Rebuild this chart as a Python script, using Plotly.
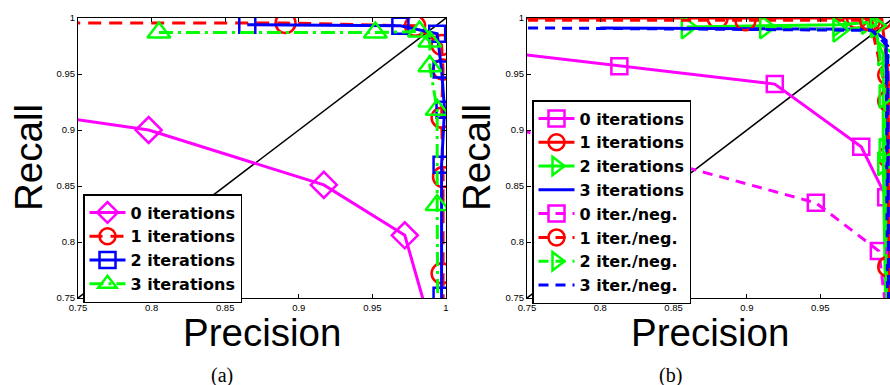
import plotly.graph_objects as go

# ---------------- data: panel (a) ----------------
a_labels = ["0 iterations", "1 iterations", "2 iterations", "3 iterations"]
a0_x = [0.65, 0.798, 0.917, 0.972, 0.995]
a0_y = [0.928, 0.900, 0.851, 0.806, 0.70]
a1_x = [0.60, 0.891, 0.979, 0.997, 0.998, 0.997, 0.998, 0.997, 0.998]
a1_y = [0.9955, 0.9955, 0.993, 0.976, 0.954, 0.911, 0.858, 0.772, 0.60]
a2_x = [0.865, 0.969, 0.994, 0.997, 0.999, 0.997, 0.997, 0.998]
a2_y = [0.994, 0.993, 0.986, 0.954, 0.918, 0.869, 0.752, 0.60]
a3_x = [0.805, 0.952, 0.982, 0.989, 0.989, 0.994, 0.994, 0.995]
a3_y = [0.987, 0.987, 0.988, 0.979, 0.957, 0.918, 0.833, 0.60]

# ---------------- data: panel (b) ----------------
b_labels = ["0 iterations", "1 iterations", "2 iterations", "3 iterations",
            "0 iter./neg.", "1 iter./neg.", "2 iter./neg.", "3 iter./neg."]
b0_x = [0.60, 0.813, 0.919, 0.978, 0.995, 0.996]
b0_y = [0.990, 0.957, 0.941, 0.885, 0.840, 0.70]
b1_x = [0.60, 0.880, 0.975, 0.992, 0.9964, 0.9964, 0.997]
b1_y = [1.0, 1.0, 1.0, 0.999, 0.949, 0.876, 0.60]
b2_x = [0.859, 0.9625, 0.982, 0.993, 0.993, 0.9965]
b2_y = [0.992, 0.994, 0.996, 0.968, 0.870, 0.60]
b3_x = [0.80, 0.985, 0.995, 0.9965]
b3_y = [0.991, 0.990, 0.980, 0.60]
b0n_x = [0.70, 0.81, 0.947, 0.990, 0.9985]
b0n_y = [0.910, 0.884, 0.835, 0.792, 0.70]
b1n_x = [0.60, 0.899, 0.984, 0.9964, 0.9964, 0.997]
b1n_y = [0.998, 0.998, 0.998, 0.926, 0.778, 0.60]
b2n_x = [0.9125, 0.9625, 0.988, 0.994, 0.994, 0.997]
b2n_y = [0.992, 0.989, 0.993, 0.930, 0.882, 0.60]
b3n_x = [0.60, 0.985, 0.996, 0.997]
b3n_y = [0.9925, 0.989, 0.975, 0.60]

diag = [0.75, 1.0]

tick_vals = [0.75, 0.8, 0.85, 0.9, 0.95, 1.0]
tick_text = ["0.75", "0.8", "0.85", "0.9", "0.95", "1"]

MAG, RED, BLU, GRN = "#ff00ff", "#ff0000", "#0000ff", "#00ff00"
LW = 3

fig = go.Figure()

def add(x, y, name, color, dash, symbol, size, xa, ya, legend, show=True):
    mode = "lines+markers" if symbol else "lines"
    marker = dict(symbol=symbol, size=size, color=color,
                  line=dict(color=color, width=2.5)) if symbol else None
    fig.add_trace(go.Scatter(
        x=x, y=y, name=name, mode=mode, xaxis=xa, yaxis=ya,
        line=dict(color=color, width=LW, dash=dash),
        marker=marker, legend=legend, showlegend=show))

# diagonals
fig.add_trace(go.Scatter(x=diag, y=diag, mode="lines", xaxis="x", yaxis="y",
                         line=dict(color="black", width=1.5), showlegend=False))
fig.add_trace(go.Scatter(x=diag, y=diag, mode="lines", xaxis="x2", yaxis="y2",
                         line=dict(color="black", width=1.5), showlegend=False))

# panel a
add(a0_x, a0_y, a_labels[0], MAG, "solid", "diamond-open", 20, "x", "y", "legend")
add(a1_x, a1_y, a_labels[1], RED, "13px,8px", "circle-open", 20, "x", "y", "legend")
add(a2_x, a2_y, a_labels[2], BLU, "solid", "square-open", 16, "x", "y", "legend")
add(a3_x, a3_y, a_labels[3], GRN, "14px,5px,3px,5px", "triangle-up-open", 20, "x", "y", "legend")

# panel b
add(b0_x, b0_y, b_labels[0], MAG, "solid", "square-open", 16, "x2", "y2", "legend2")
add(b1_x, b1_y, b_labels[1], RED, "solid", "circle-open", 20, "x2", "y2", "legend2")
add(b2_x, b2_y, b_labels[2], GRN, "solid", "triangle-right-open", 20, "x2", "y2", "legend2")
add(b3_x, b3_y, b_labels[3], BLU, "solid", None, 0, "x2", "y2", "legend2")
add(b0n_x, b0n_y, b_labels[4], MAG, "10px,7px", "square-open", 16, "x2", "y2", "legend2")
add(b1n_x, b1n_y, b_labels[5], RED, "10px,7px", "circle-open", 20, "x2", "y2", "legend2")
add(b2n_x, b2n_y, b_labels[6], GRN, "10px,7px", "triangle-right-open", 20, "x2", "y2", "legend2")
add(b3n_x, b3n_y, b_labels[7], BLU, "10px,7px", None, 0, "x2", "y2", "legend2")

W, H = 890, 385
L, T, B = 78, 18, 87
plotw = W - L
ploth = H - T - B
BOT = H - B  # pixel row of the bottom axis

axis_common = dict(
    showline=True, linecolor="black", linewidth=1.2,
    ticks="inside", ticklen=4, tickwidth=1, tickcolor="black",
    showgrid=False, zeroline=False,
    tickvals=tick_vals, ticktext=tick_text,
    tickfont=dict(family="Liberation Sans, Arial", size=9.5, color="black"),
)

legend_common = dict(
    bgcolor="white", bordercolor="black", borderwidth=1.5,
    font=dict(family="DejaVu Sans", size=16, color="black", weight="bold"),
    itemwidth=36, tracegroupgap=0, xanchor="left", yanchor="top",
    traceorder="normal",
)

def px_x(xpx):
    return (xpx - L) / plotw

def px_y(ypx):
    return (BOT - ypx) / ploth

fig.update_layout(
    width=W, height=H,
    margin=dict(l=L, r=0, t=T, b=B, pad=0, autoexpand=False),
    paper_bgcolor="white", plot_bgcolor="white",
    xaxis=dict(domain=[0, px_x(446)], range=[0.75, 1.0],
               mirror="ticks", anchor="y", **axis_common),
    yaxis=dict(domain=[0, 1], range=[0.75, 1.0], mirror="ticks",
               anchor="x", **axis_common),
    xaxis2=dict(domain=[px_x(527), 1.0], range=[0.75, 0.9976],
                mirror="ticks", anchor="y2", **axis_common),
    yaxis2=dict(domain=[0, 1], range=[0.75, 1.0], mirror=False,
                anchor="x2", **axis_common),
    legend=dict(x=px_x(83), y=px_y(194), **legend_common),
    legend2=dict(x=px_x(532), y=px_y(100), **legend_common),
    showlegend=True,
)

title_font = dict(family="Liberation Sans, Arial", size=38.5, color="black")
cap_font = dict(family="Liberation Serif, Times New Roman", size=20, color="black")

def ann(text, xpx, ypx, font, angle=0):
    fig.add_annotation(text=text, x=px_x(xpx), y=px_y(ypx), xref="paper", yref="paper",
                       xanchor="center", yanchor="middle", showarrow=False,
                       font=font, textangle=angle)

ann("Precision", 262, 332, title_font)
ann("Recall", 28, 158, title_font, -90)
ann("Precision", 710, 332, title_font)
ann("Recall", 476, 158, title_font, -90)
ann("(a)", 222, 375, cap_font)
ann("(b)", 670, 375, cap_font)

fig.write_html(
    "out.html",
    config={"displayModeBar": False},
    post_script="document.body.style.margin='0';document.body.style.overflow='hidden';",
)
